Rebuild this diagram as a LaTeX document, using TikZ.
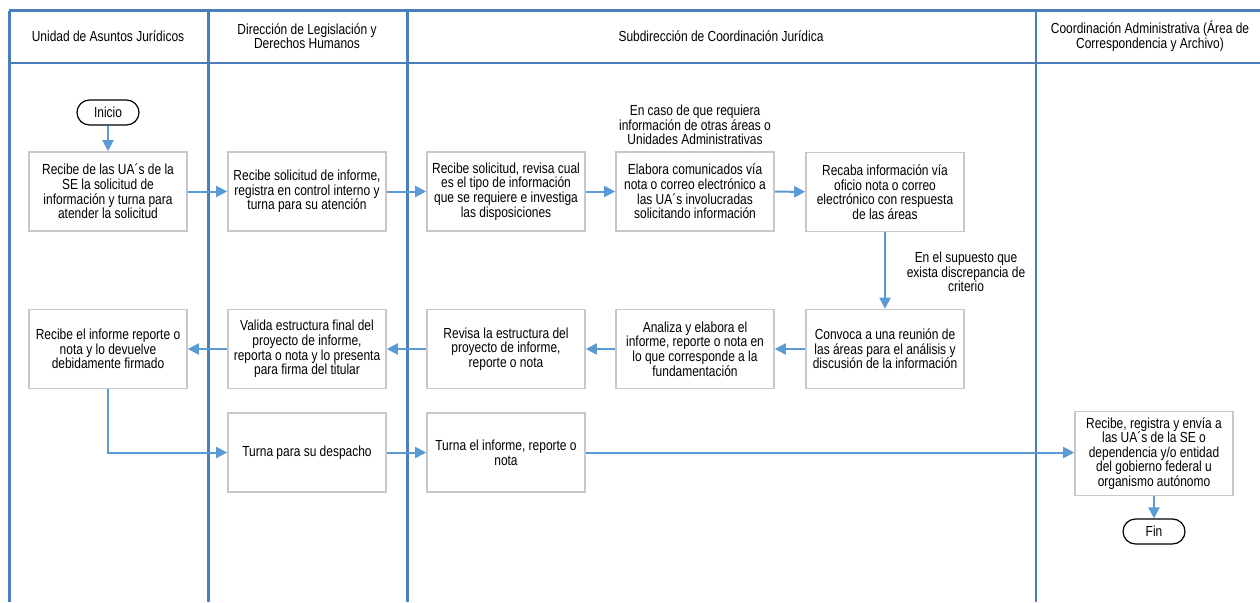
\documentclass[tikz,border=0pt]{standalone}
\usepackage{fontspec}
\setmainfont{Liberation Sans}[FakeStretch=0.82]
\usetikzlibrary{arrows.meta}
\definecolor{lane}{HTML}{4A7EBB}
\definecolor{flow}{HTML}{5B9BD5}
\definecolor{boxline}{HTML}{C8C8C8}
\begin{document}
\begin{tikzpicture}[x=1pt,y=-1pt,
  txt/.style={font=\fontsize{14.6}{14.6}\selectfont, align=center, inner sep=1pt},
  stepbox/.style={txt, draw=boxline, line width=1.6pt, fill=white,
    minimum width=158pt, minimum height=79pt},
  term/.style={txt, draw=black, line width=1.2pt, fill=white, rounded corners=12.5pt,
    minimum width=62pt, minimum height=25pt},
  lanerule/.style={draw=lane, line width=3pt},
  flowarrow/.style={draw=flow, line width=2pt,
    -{Triangle[length=11pt,width=11pt]}}
]
\useasboundingbox (0,0) rectangle (1260,602);

% swimlane frame
\draw[lanerule] (9,11) -- (1260,11);
\draw[lanerule, line width=2pt] (9,63) -- (1260,63);
\draw[lanerule] (9,11) -- (9,602);
\draw[lanerule] (208,11) -- (208,602);
\draw[lanerule] (407,11) -- (407,602);
\draw[lanerule, line width=2pt] (1036,11) -- (1036,602);

% lane titles
\node[txt] (h1) at (108,36) {Unidad de Asuntos Jurídicos};
\node[txt] (h2) at (307,36) {Dirección de Legislación y\\Derechos Humanos};
\node[txt] (h3) at (721,36) {Subdirección de Coordinación Jurídica};
\node[txt] (h4) at (1150,36) {Coordinación Administrativa (Área de\\Correspondencia y Archivo)};

% terminals
\node[term] (inicio) at (108,112.5) {Inicio};
\node[term] (fin) at (1154,531.5) {Fin};

% first row
\node[stepbox] (b1) at (108,191.5) {Recibe de las UA´s de la\\SE la solicitud de\\información y turna para\\atender la solicitud};
\node[stepbox] (b2) at (307,191.5) {Recibe solicitud de informe,\\registra en control interno y\\turna para su atención};
\node[stepbox] (b3) at (506,191.5) {Recibe solicitud, revisa cual\\es el tipo de información\\que se requiere e investiga\\las disposiciones};
\node[stepbox] (b4) at (695,191.5) {Elabora comunicados vía\\nota o correo electrónico a\\las UA´s involucradas\\solicitando información};
\node[stepbox] (b5) at (885,192) {Recaba información vía\\oficio nota o correo\\electrónico con respuesta\\de las áreas};

% second row
\node[stepbox] (c1) at (108,349) {Recibe el informe reporte o\\nota y lo devuelve\\debidamente firmado};
\node[stepbox] (c2) at (307,349) {Valida estructura final del\\proyecto de informe,\\reporta o nota y lo presenta\\para firma del titular};
\node[stepbox] (c3) at (506,349) {Revisa la estructura del\\proyecto de informe,\\reporte o nota};
\node[stepbox] (c4) at (695,349) {Analiza y elabora el\\informe, reporte o nota en\\lo que corresponde a la\\fundamentación};
\node[stepbox] (c5) at (885,349) {Convoca a una reunión de\\las áreas para el análisis y\\discusión de la información};

% third row
\node[stepbox] (d2) at (307,452.5) {Turna para su despacho};
\node[stepbox] (d3) at (506,452.5) {Turna el informe, reporte o\\nota};
\node[stepbox, minimum height=84pt] (e1) at (1154,453.5) {Recibe, registra y envía a\\las UA´s de la SE o\\dependencia y/o entidad\\del gobierno federal u\\organismo autónomo};

% conditions
\node[txt] (cond1) at (695,125) {En caso de que requiera\\información de otras áreas o\\Unidades Administrativas};
\node[txt] (cond2) at (966,272) {En el supuesto que\\exista discrepancia de\\criterio};

% flow
\draw[flowarrow] (inicio) -- (b1);
\draw[flowarrow] (b1) -- (b2);
\draw[flowarrow] (b2) -- (b3);
\draw[flowarrow] (b3) -- (b4);
\draw[flowarrow] (b4) -- (b5);
\draw[flowarrow] (b5) -- (c5);
\draw[flowarrow] (c5) -- (c4);
\draw[flowarrow] (c4) -- (c3);
\draw[flowarrow] (c3) -- (c2);
\draw[flowarrow] (c2) -- (c1);
\draw[flowarrow] (c1.south) |- (d2.west);
\draw[flowarrow] (d2) -- (d3);
\draw[flowarrow] (d3.east) -- (d3.east -| e1.west);
\draw[flowarrow] (e1) -- (fin);
\end{tikzpicture}
\end{document}
